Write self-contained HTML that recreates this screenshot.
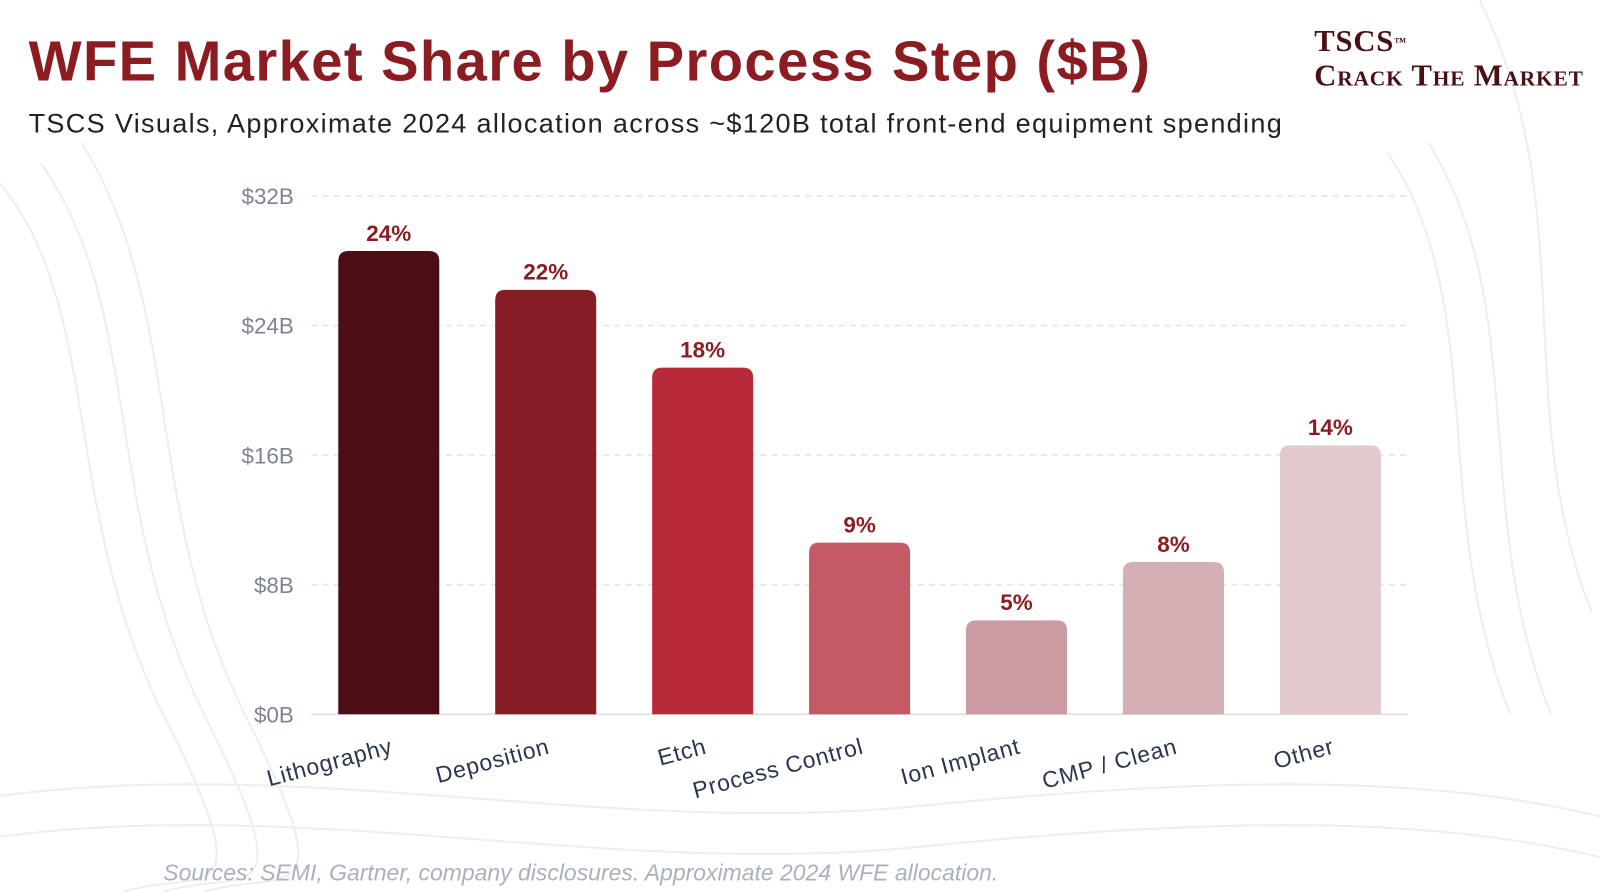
<!DOCTYPE html>
<html><head><meta charset="utf-8"><style>
body{margin:0;width:1600px;height:892px;background:#fff;overflow:hidden;font-family:"Liberation Sans",sans-serif;position:relative}
#wrap{position:absolute;left:0;top:0;width:1568px;height:874px;transform:scale(1.0204);transform-origin:0 0}
.t{position:absolute;left:28px;top:28px;font-size:55px;font-weight:bold;color:#8a1c22;letter-spacing:1.4px}
.s{position:absolute;left:28px;top:106px;font-size:26.5px;color:#222;letter-spacing:1.3px}
.logo{position:absolute;left:1288px;top:24px;font-family:"Liberation Serif",serif;color:#4a1014;font-size:30px;line-height:34px;font-weight:bold;letter-spacing:0.8px}
.src{position:absolute;left:160px;top:843px;font-size:22.5px;font-style:italic;color:#aab0bd}
</style></head><body>
<div id="wrap">
<svg width="1568" height="874" style="position:absolute;left:0;top:0">
<g fill="none" stroke="#eeeef1" stroke-width="2">
<path d="M0,180 C100,300 60,500 160,700 S200,850 120,874"/>
<path d="M40,160 C140,300 100,500 200,700 S240,850 160,874"/>
<path d="M80,140 C180,300 140,500 240,700 S280,850 200,874"/>
<path d="M1450,0 C1550,200 1480,400 1560,600"/>
<path d="M1400,140 C1500,300 1440,500 1520,700"/>
<path d="M1360,150 C1460,300 1400,500 1480,700"/>
<path d="M0,780 C300,740 600,820 900,790 S1400,760 1568,800"/>
<path d="M0,820 C300,780 600,860 900,830 S1400,800 1568,840"/>
</g></svg>
<div class="t">WFE Market Share by Process Step ($B)</div>
<div class="s">TSCS Visuals, Approximate 2024 allocation across ~$120B total front-end equipment spending</div>
<div class="logo">TSCS<span style="font-size:12px;vertical-align:top">™</span><br><span style="font-variant:small-caps">Crack The Market</span></div>
<svg id="chart" width="1568" height="874" style="position:absolute;left:0;top:0"></svg>
<div class="src">Sources: SEMI, Gartner, company disclosures. Approximate 2024 WFE allocation.</div>
</div>
<script>
const categories=["Lithography","Deposition","Etch","Process Control","Ion Implant","CMP / Clean","Other"];
const values=[28.6,26.2,21.4,10.6,5.8,9.4,16.6];
const shares=["24%","22%","18%","9%","5%","8%","14%"];
const colors=["#4a0e14","#861d24","#b82a3a","#c45a66","#cc9aa2","#d4b0b5","#e2c9cc"];
const ticks=[0,8,16,24,32];
const tickLabels=["$0B","$8B","$16B","$24B","$32B"];
const svg=document.getElementById('chart');const NS="http://www.w3.org/2000/svg";
const y=v=>700-v*(508/32);
const x=i=>381+i*153.8;
function mk(t,a){const e=document.createElementNS(NS,t);for(const k in a)e.setAttribute(k,a[k]);svg.appendChild(e);return e;}
ticks.forEach((t,i)=>{
 const l=mk('line',{x1:305,x2:1380,y1:y(t),y2:y(t),stroke:t?'#e3e3ea':'#ddd','stroke-dasharray':t?'6,5':'',"stroke-width":1.5});
 
 
 const tx=mk('text',{x:288,y:y(t)+8,'text-anchor':'end','font-size':22,fill:'#7d8394'});
 tx.textContent=tickLabels[i];
 
 
});
categories.forEach((c,i)=>{
 const top=y(values[i]),w=99;
 const b=mk('path',{d:`M${x(i)-w/2},700 V${top+10} Q${x(i)-w/2},${top} ${x(i)-w/2+10},${top} H${x(i)+w/2-10} Q${x(i)+w/2},${top} ${x(i)+w/2},${top+10} V700 Z`,fill:colors[i]});
 
 
 const v=mk('text',{x:x(i),y:top-10,'text-anchor':'middle','font-size':22,'font-weight':'bold',fill:'#8a1c22'});
 v.textContent=shares[i];
 
 
 const lx=x(i)+5,ly=738;
 const lb=mk('text',{x:lx,y:ly,'text-anchor':'end','font-size':22.5,fill:'#2a3550','letter-spacing':'0.8',transform:`rotate(-15 ${lx} ${ly})`});
 lb.textContent=c;
 
 
});
</script>
</body></html>
